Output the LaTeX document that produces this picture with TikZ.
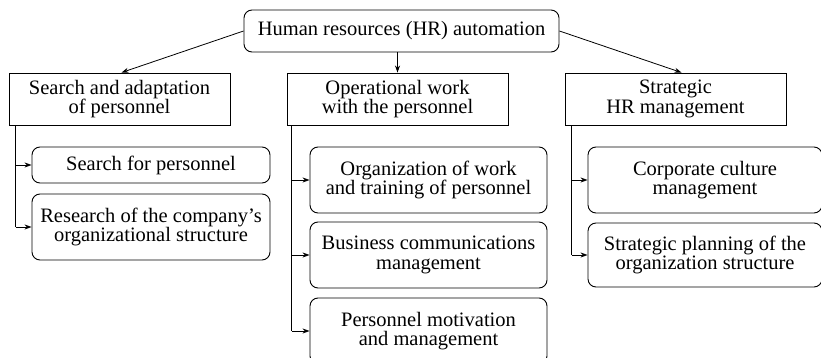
\documentclass[tikz,border=0pt]{standalone}
\usepackage{fontspec}
\setmainfont{Liberation Serif}
\usetikzlibrary{arrows.meta,calc}
\begin{document}
\begin{tikzpicture}[x=1pt,y=-1pt,
  every node/.style={font=\fontsize{20.5pt}{19.5pt}\selectfont, align=center, inner sep=0pt, line width=0.9pt},
  sqbox/.style={draw, rectangle},
  rbox/.style={draw, rectangle, rounded corners=8pt},
  conn/.style={line width=0.8pt, -{Stealth[length=7pt,width=5pt]}},
  plain/.style={line width=0.8pt}]
\useasboundingbox (0,0) rectangle (821,358);
\node[rbox, minimum width=315pt, minimum height=42pt] (top) at (401.5,31) {Human resources (HR) automation};
\node[sqbox, minimum width=221pt, minimum height=52pt] (L) at (119.5,99) {Search and adaptation\\of personnel};
\node[sqbox, minimum width=221pt, minimum height=52pt] (M) at (397.5,99) {Operational work\\with the personnel};
\node[sqbox, minimum width=221pt, minimum height=52pt] (R) at (675.5,99) {Strategic\\HR management};
\node[rbox, minimum width=238pt, minimum height=36pt] (L1) at (151,165) {Search for personnel};
\node[rbox, minimum width=238pt, minimum height=66pt] (L2) at (151,227) {Research of the company’s\\organizational structure};
\node[rbox, minimum width=237pt, minimum height=66pt] (M1) at (428.5,180) {Organization of work\\and training of personnel};
\node[rbox, minimum width=237pt, minimum height=66pt] (M2) at (428.5,255) {Business communications\\management};
\node[rbox, minimum width=237pt, minimum height=66pt] (M3) at (428.5,331) {Personnel motivation\\and management};
\node[rbox, minimum width=234pt, minimum height=66pt] (R1) at (705,180) {Corporate culture\\management};
\node[rbox, minimum width=234pt, minimum height=64pt] (R2) at (705,255) {Strategic planning of the\\organization structure};
% top connectors
\draw[conn] (top.west) -- ([xshift=2pt]L.north);
\draw[conn] (top.south -| M.north) -- (M.north);
\draw[conn] (top.east) -- ([xshift=6pt]R.north);
% trunks
\coordinate (lt) at ([xshift=7pt]L.south west);
\coordinate (mt) at ([xshift=5pt]M.south west);
\coordinate (rt) at ([xshift=7pt]R.south west);
\draw[plain] (lt) -- (lt |- L2.west);
\draw[conn] (lt |- L1.west) -- (L1.west);
\draw[conn] (lt |- L2.west) -- (L2.west);
\draw[plain] (mt) -- (mt |- M3.west);
\draw[conn] (mt |- M1.west) -- (M1.west);
\draw[conn] (mt |- M2.west) -- (M2.west);
\draw[conn] (mt |- M3.west) -- (M3.west);
\draw[plain] (rt) -- (rt |- R2.west);
\draw[conn] (rt |- R1.west) -- (R1.west);
\draw[conn] (rt |- R2.west) -- (R2.west);
\end{tikzpicture}
\end{document}
